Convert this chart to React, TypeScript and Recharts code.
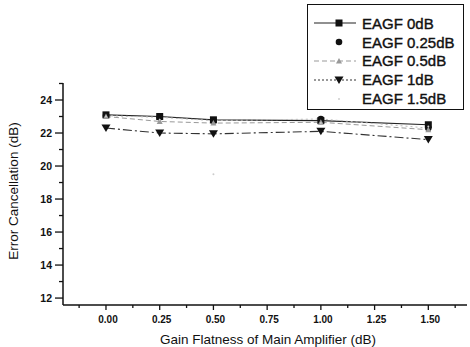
import React from 'react';
import { LineChart, Line, XAxis, YAxis } from 'recharts';

// gain flatness of main amplifier (dB)
const gainFlatness = [0, 0.25, 0.5, 1.0, 1.5];

// error cancellation (dB) per EAGF setting
const eagf0 = [23.1, 23.0, 22.8, 22.75, 22.5];
const eagf025 = [23.05, 22.95, 22.75, 22.85, 22.3];
const eagf05 = [23.0, 22.7, 22.6, 22.65, 22.2];
const eagf1 = [22.3, 22.0, 21.95, 22.1, 21.6];
const eagf15 = [23.0, 22.8, 19.5, 22.6, 22.4];

const seriesNames = ['EAGF 0dB', 'EAGF 0.25dB', 'EAGF 0.5dB', 'EAGF 1dB', 'EAGF 1.5dB'];

const xTicks = [-0.125, 0, 0.125, 0.25, 0.375, 0.5, 0.625, 0.75, 0.875, 1.0, 1.125, 1.25, 1.375, 1.5, 1.625];
const xLabels = [0, 0.25, 0.5, 0.75, 1.0, 1.25, 1.5];
const yTicks = [12, 13, 14, 15, 16, 17, 18, 19, 20, 21, 22, 23, 24, 25];
const yLabels = [12, 14, 16, 18, 20, 22, 24];

const data = gainFlatness.map((g, i) => ({
  g,
  s0: eagf0[i],
  s1: eagf025[i],
  s2: eagf05[i],
  s3: eagf1[i],
  s4: eagf15[i],
}));

const FONT = '"Liberation Sans", Arial, Helvetica, sans-serif';
const INK = '#111';

type Shape = 'square' | 'circle' | 'up' | 'down' | 'dot';

const Marker = ({ cx, cy, shape, color }: { cx: number; cy: number; shape: Shape; color: string }) => {
  if (shape === 'square') return <rect x={cx - 3.5} y={cy - 3.5} width={7} height={7} fill={color} />;
  if (shape === 'circle') return <circle cx={cx} cy={cy} r={3.3} fill={color} />;
  if (shape === 'up')
    return <path d={`M${cx},${cy - 3} L${cx + 3},${cy + 2.5} L${cx - 3},${cy + 2.5} Z`} fill={color} />;
  if (shape === 'down')
    return <path d={`M${cx - 4.5},${cy - 3.5} L${cx + 4.5},${cy - 3.5} L${cx},${cy + 4} Z`} fill={color} />;
  return <circle cx={cx} cy={cy} r={1} fill={color} />;
};

const series = [
  { key: 's0', shape: 'square' as Shape, color: INK, stroke: '#222', dash: undefined, width: 1.2, legendLine: true },
  { key: 's1', shape: 'circle' as Shape, color: INK, stroke: '#bbb', dash: '2 3', width: 1, legendLine: false },
  { key: 's2', shape: 'up' as Shape, color: '#999', stroke: '#999', dash: '5 3', width: 1, legendLine: true },
  { key: 's3', shape: 'down' as Shape, color: INK, stroke: '#333', dash: '9 3 2 3', width: 1.1, legendLine: true },
  { key: 's4', shape: 'dot' as Shape, color: '#ccc', stroke: 'none', dash: undefined, width: 0, legendLine: false },
];

const YTick = (props: any) => {
  const { x, y, payload } = props;
  const major = yLabels.includes(payload.value);
  return (
    <g>
      <line x1={x - (major ? 8 : 4)} x2={x} y1={y} y2={y} stroke={INK} strokeWidth={1.3} />
      {major && (
        <text x={x - 11} y={y} dy={3.5} textAnchor="end" fontFamily={FONT} fontWeight="bold" fontSize={10.5} fill={INK}>
          {payload.value}
        </text>
      )}
    </g>
  );
};

const XTick = (props: any) => {
  const { x, y, payload } = props;
  const major = xLabels.includes(payload.value);
  return (
    <g>
      <line x1={x} x2={x} y1={y} y2={y + (major ? 5 : 3)} stroke={INK} strokeWidth={1.3} />
      {major && (
        <text x={x + 2} y={y + 18} textAnchor="middle" fontFamily={FONT} fontWeight="bold" fontSize={10} fill={INK}>
          {payload.value.toFixed(2)}
        </text>
      )}
    </g>
  );
};

const XTitle = (props: any) => {
  const { viewBox } = props;
  return (
    <text x={viewBox.x + viewBox.width / 2 + 3} y={viewBox.y + viewBox.height - 3} textAnchor="middle" fontFamily={FONT} fontSize={13.5} fill={INK}>
      Gain Flatness of Main Amplifier (dB)
    </text>
  );
};

const YTitle = (props: any) => {
  const { viewBox } = props;
  const cy = viewBox.y + viewBox.height / 2 - 3;
  return (
    <text x={18} y={cy} transform={`rotate(-90, 18, ${cy})`} textAnchor="middle" fontFamily={FONT} fontSize={13.5} fill={INK}>
      Error Cancellation (dB)
    </text>
  );
};

const LegendBox = () => (
  <div
    style={{
      position: 'absolute',
      left: 307,
      top: 4,
      width: 157,
      height: 106,
      boxSizing: 'border-box',
      border: `1.5px solid ${INK}`,
      paddingTop: 9,
      background: '#fff',
    }}
  >
    {series.map((s, i) => (
      <div key={s.key} style={{ display: 'flex', alignItems: 'center', height: 18.8 }}>
        <svg width={50} height={14} style={{ marginLeft: 4 }}>
          {s.legendLine && (
            <line x1={2} x2={44} y1={7} y2={7} stroke={s.stroke} strokeWidth={s.width} strokeDasharray={i === 3 ? '2 2' : s.dash} />
          )}
          <Marker cx={27} cy={7} shape={s.shape} color={s.color} />
        </svg>
        <span
          style={{
            fontFamily: FONT,
            fontSize: 15,
            color: INK,
            WebkitTextStroke: '0.4px #111',
          }}
        >
          {seriesNames[i]}
        </span>
      </div>
    ))}
  </div>
);

export default function App() {
  return (
    <div style={{ position: 'relative', width: 470, height: 347, background: '#fff' }}>
      <style>{'body{margin:0}'}</style>
      <LineChart width={470} height={347} data={data} margin={{ top: 83, right: 3, bottom: 0, left: 0 }}>
        <XAxis
          dataKey="g"
          type="number"
          domain={[-0.2, 1.68]}
          ticks={xTicks}
          interval={0}
          allowDataOverflow
          height={42}
          tickSize={0}
          tickMargin={0}
          tickLine={false}
          axisLine={{ stroke: INK, strokeWidth: 1.5 }}
          tick={<XTick />}
          label={<XTitle />}
        />
        <YAxis
          type="number"
          domain={[11.58, 25.03]}
          ticks={yTicks}
          interval={0}
          allowDataOverflow
          width={63}
          tickSize={0}
          tickMargin={0}
          tickLine={false}
          axisLine={{ stroke: INK, strokeWidth: 1.5 }}
          tick={<YTick />}
          label={<YTitle />}
        />
        {series.map((s, i) => (
          <Line
            key={s.key}
            dataKey={s.key}
            name={seriesNames[i]}
            type="linear"
            stroke={s.stroke}
            strokeWidth={s.width}
            strokeDasharray={s.dash}
            isAnimationActive={false}
            dot={(p: any) => <Marker key={`${s.key}-${p.index}`} cx={p.cx} cy={p.cy} shape={s.shape} color={s.color} />}
            activeDot={false}
          />
        ))}
      </LineChart>
      <LegendBox />
    </div>
  );
}
